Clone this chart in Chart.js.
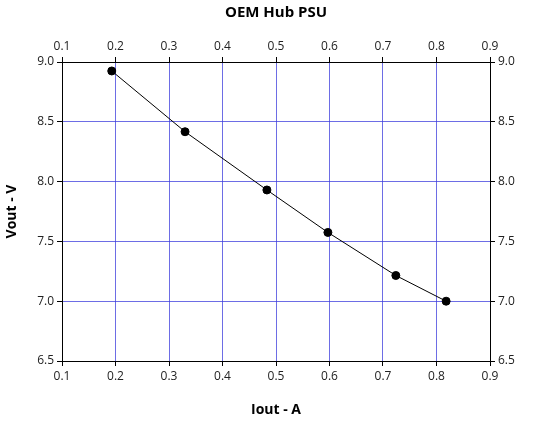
<!DOCTYPE html>
<html><head><meta charset="utf-8">
<script src="https://cdn.jsdelivr.net/npm/chart.js@4"></script>
<style>html,body{margin:0;padding:0;background:#fff}#w{width:552px;height:422px}</style>
</head><body><div id="w"><canvas id="c"></canvas></div>
<script>
const iout = [0.193, 0.33, 0.483, 0.597, 0.724, 0.818];
const vout = [8.925, 8.417, 7.93, 7.575, 7.215, 7.0];
const title = "OEM Hub PSU";
const xLabel = "Iout - A";
const yLabel = "Vout - V";
const FONT = "'Open Sans', 'DejaVu Sans', sans-serif";
const grid = {color:'rgba(60,60,220,0.75)', tickColor:'#000', tickLength:5, drawTicks:true};
const tk = {color:'#222', font:{family:FONT,size:12}};
const fixW = w => s => { s.width = w; };
const fixH = h => s => { s.height = h; };
new Chart(document.getElementById('c'), {
  type:'scatter',
  data:{datasets:[{data:iout.map((x,i)=>({x,y:vout[i]})), showLine:true,
    borderColor:'#000', borderWidth:1, backgroundColor:'#000', pointRadius:4, pointHoverRadius:4}]},
  options:{responsive:true, maintainAspectRatio:false, animation:false,
    layout:{padding:0},
    plugins:{legend:{display:false}, tooltip:{enabled:false}},
    scales:{
      x:{type:'linear', position:'bottom', min:0.1, max:0.9, ticks:{...tk, stepSize:0.1, callback:v=>+v.toFixed(1)},
         grid:grid, border:{color:'#000'},
         title:{display:true, text:xLabel, font:{family:FONT,size:14,weight:'bold'}, color:'#000', padding:{top:4}},
         afterFit:fixH(61)},
      x2:{type:'linear', position:'top', min:0.1, max:0.9, ticks:{...tk, stepSize:0.1, callback:v=>+v.toFixed(1)},
         grid:{...grid, drawOnChartArea:false}, border:{color:'#000'},
         title:{display:true, text:title, font:{family:FONT,size:15,weight:'bold'}, color:'#000', padding:{top:4,bottom:6}},
         afterFit:fixH(62)},
      y:{type:'linear', position:'left', min:6.5, max:9, ticks:{...tk, stepSize:0.5},
         grid:grid, border:{color:'#000'},
         title:{display:true, text:yLabel, font:{family:FONT,size:14,weight:'bold'}, color:'#000'},
         afterFit:fixW(62)},
      y2:{type:'linear', position:'right', min:6.5, max:9, ticks:{...tk, stepSize:0.5},
         grid:{...grid, drawOnChartArea:false}, border:{color:'#000'},
         afterFit:fixW(62)}
    }}
});
</script></body></html>
